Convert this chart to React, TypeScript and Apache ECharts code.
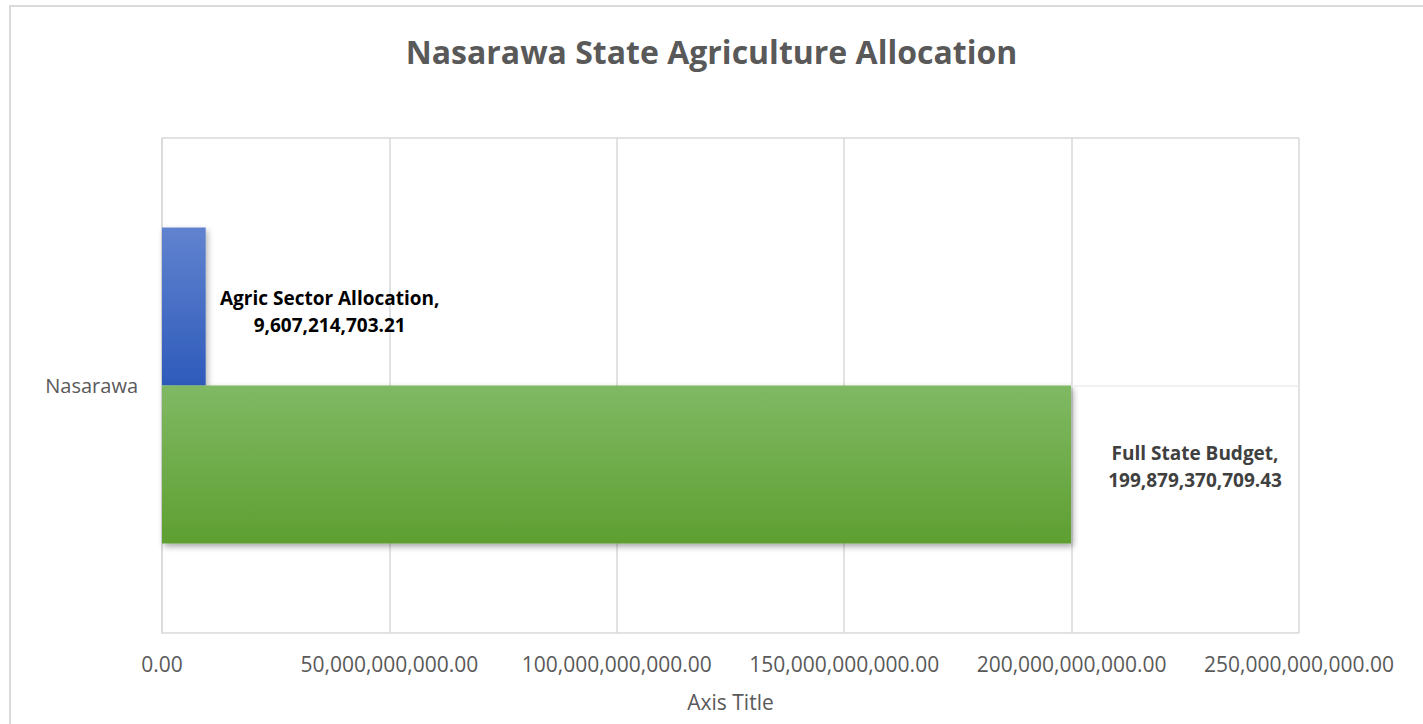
import React, { useEffect, useRef } from "react";
import * as echarts from "echarts";

const titleText = "Nasarawa State Agriculture Allocation";
const categories = ["Nasarawa"];
const agricValues = [9607214703.21];
const budgetValues = [199879370709.43];
const axisMin = 0;
const axisMax = 250000000000;
const axisInterval = 50000000000;
const axisTitle = "Axis Title";

const FONT = "'Open Sans', 'Noto Sans', sans-serif";
const fmt = (v: number) =>
  v.toLocaleString("en-US", { minimumFractionDigits: 2, maximumFractionDigits: 2 });

export default function App() {
  const ref = useRef<HTMLDivElement>(null);
  useEffect(() => {
    document.body.style.margin = "0";
    const chart = echarts.init(ref.current!, null, { renderer: "svg" });
    const labelFor = (color: string, dy: number) => ({
      show: true,
      position: "right",
      distance: 12,
      offset: [0, dy],
      formatter: (p: any) => `{a|${p.seriesName},}\n{a|${fmt(p.value)}}`,
      rich: {
        a: {
          width: 224,
          align: "center",
          fontFamily: FONT,
          fontWeight: "bold",
          fontSize: 19,
          lineHeight: 27,
          color,
        },
      },
    });
    chart.setOption({
      animation: false,
      backgroundColor: "#ffffff",
      title: {
        text: titleText,
        left: "center",
        top: 30,
        textStyle: { fontFamily: FONT, fontWeight: "bold", fontSize: 32, color: "#595959" },
      },
      graphic: [
        {
          type: "rect",
          shape: { x: 10, y: 6, width: 1500, height: 800 },
          style: { fill: "none", stroke: "#d9d9d9", lineWidth: 2 },
          silent: true,
        },
      ],
      grid: { left: 162, right: 124, top: 138, bottom: 91, containLabel: false },
      xAxis: {
        type: "value",
        min: axisMin,
        max: axisMax,
        interval: axisInterval,
        name: axisTitle,
        nameLocation: "middle",
        nameGap: 58,
        nameTextStyle: { fontFamily: FONT, fontSize: 21, color: "#595959" },
        axisLine: { show: false },
        axisTick: { show: false },
        axisLabel: {
          fontFamily: FONT,
          fontSize: 21,
          color: "#595959",
          margin: 20,
          formatter: (v: number) => fmt(v),
        },
        splitLine: { show: true, lineStyle: { color: "#d9d9d9", width: 1.5 } },
      },
      yAxis: {
        type: "category",
        data: categories,
        axisLine: { show: true, lineStyle: { color: "#d9d9d9", width: 1.5 } },
        axisTick: { show: false },
        axisLabel: { fontFamily: FONT, fontSize: 20, color: "#595959", margin: 24 },
        splitLine: { show: true, lineStyle: { color: "#d9d9d9", width: 1.5 } },
      },
      series: [
        {
          name: "Agric Sector Allocation",
          type: "bar",
          data: agricValues,
          barWidth: 158,
          barGap: "0%",
          itemStyle: {
            color: new echarts.graphic.LinearGradient(0, 0, 0, 1, [
              { offset: 0, color: "#6183cf" },
              { offset: 1, color: "#2e5bbb" },
            ]),
            shadowColor: "rgba(0,0,0,0.3)",
            shadowBlur: 6,
            shadowOffsetX: 2,
            shadowOffsetY: 3,
          },
          label: labelFor("#000000", 5),
        },
        {
          name: "Full State Budget",
          type: "bar",
          data: budgetValues,
          barWidth: 158,
          barGap: "0%",
          itemStyle: {
            color: new echarts.graphic.LinearGradient(0, 0, 0, 1, [
              { offset: 0, color: "#80b964" },
              { offset: 1, color: "#5e9f31" },
            ]),
            shadowColor: "rgba(0,0,0,0.35)",
            shadowBlur: 6,
            shadowOffsetX: 2,
            shadowOffsetY: 3,
          },
          label: labelFor("#404040", 2),
        },
        {
          name: "centerLine",
          type: "line",
          data: [],
          silent: true,
          markLine: {
            silent: true,
            symbol: "none",
            label: { show: false },
            lineStyle: { color: "#ececec", width: 1.5, type: "solid" },
            data: [
              [
                { coord: [budgetValues[0], categories[0]] },
                { coord: [axisMax, categories[0]] },
              ],
            ],
          },
        },
      ],
    });
    return () => chart.dispose();
  }, []);
  return <div ref={ref} style={{ width: 1423, height: 724 }} />;
}
